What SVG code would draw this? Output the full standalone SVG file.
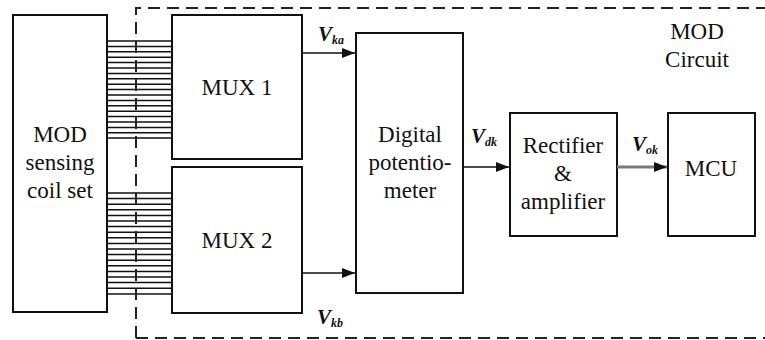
<svg xmlns="http://www.w3.org/2000/svg" width="765" height="340" viewBox="0 0 765 340">
  <style>
    .box { fill: #fff; stroke: #111; stroke-width: 2; }
    .lbl { font-family: "Liberation Serif", "DejaVu Serif", serif; font-size: 23px; fill: #111; text-anchor: middle; }
    .v { font-family: "Liberation Serif", "DejaVu Serif", serif; font-style: italic; font-weight: bold; font-size: 21px; fill: #111; }
    .sub { font-size: 12px; }
    .bus line { stroke: #111; stroke-width: 1.5; }
    .wire { stroke: #111; stroke-width: 1.6; fill: none; }
    .frame { fill: none; stroke: #222; stroke-width: 2; stroke-dasharray: 12 7; }
  </style>
  <defs>
    <marker id="arr" markerWidth="13" markerHeight="10" refX="13" refY="5" orient="auto" markerUnits="userSpaceOnUse">
      <path d="M0,0 L13,5 L0,10 Z" fill="#111"/>
    </marker>
  </defs>
  <rect width="765" height="340" fill="#fff"/>

  <!-- sensing coil bus lines -->
  <g id="bus-upper" class="bus">
    <line x1="107" y1="41" x2="172" y2="41"/><line x1="107" y1="46.4" x2="172" y2="46.4"/>
    <line x1="107" y1="51.8" x2="172" y2="51.8"/><line x1="107" y1="57.2" x2="172" y2="57.2"/>
    <line x1="107" y1="62.6" x2="172" y2="62.6"/><line x1="107" y1="68" x2="172" y2="68"/>
    <line x1="107" y1="73.4" x2="172" y2="73.4"/><line x1="107" y1="78.8" x2="172" y2="78.8"/>
    <line x1="107" y1="84.2" x2="172" y2="84.2"/><line x1="107" y1="89.6" x2="172" y2="89.6"/>
    <line x1="107" y1="95" x2="172" y2="95"/><line x1="107" y1="100.4" x2="172" y2="100.4"/>
    <line x1="107" y1="105.8" x2="172" y2="105.8"/><line x1="107" y1="111.2" x2="172" y2="111.2"/>
    <line x1="107" y1="116.6" x2="172" y2="116.6"/><line x1="107" y1="122" x2="172" y2="122"/>
    <line x1="107" y1="127.4" x2="172" y2="127.4"/><line x1="107" y1="132.8" x2="172" y2="132.8"/>
    <line x1="107" y1="138" x2="172" y2="138"/>
  </g>
  <g id="bus-lower" class="bus">
    <line x1="107" y1="193" x2="172" y2="193"/><line x1="107" y1="198.6" x2="172" y2="198.6"/>
    <line x1="107" y1="204.2" x2="172" y2="204.2"/><line x1="107" y1="209.8" x2="172" y2="209.8"/>
    <line x1="107" y1="215.4" x2="172" y2="215.4"/><line x1="107" y1="221" x2="172" y2="221"/>
    <line x1="107" y1="226.6" x2="172" y2="226.6"/><line x1="107" y1="232.2" x2="172" y2="232.2"/>
    <line x1="107" y1="237.8" x2="172" y2="237.8"/><line x1="107" y1="243.4" x2="172" y2="243.4"/>
    <line x1="107" y1="249" x2="172" y2="249"/><line x1="107" y1="254.6" x2="172" y2="254.6"/>
    <line x1="107" y1="260.2" x2="172" y2="260.2"/><line x1="107" y1="265.8" x2="172" y2="265.8"/>
    <line x1="107" y1="271.4" x2="172" y2="271.4"/><line x1="107" y1="277" x2="172" y2="277"/>
    <line x1="107" y1="282.6" x2="172" y2="282.6"/><line x1="107" y1="288.2" x2="172" y2="288.2"/>
    <line x1="107" y1="294" x2="172" y2="294"/>
  </g>

  <!-- MOD circuit boundary -->
  <g id="mod-circuit">
    <path class="frame" d="M136,338 L136,8 L770,8 M136,338 L770,338"/>
    <text class="lbl" x="697" y="39">MOD</text>
    <text class="lbl" x="697" y="67">Circuit</text>
  </g>

  <g id="coil-set">
    <rect class="box" x="13" y="15" width="94" height="297"/>
    <text class="lbl" x="60" y="142">MOD</text>
    <text class="lbl" x="60" y="170">sensing</text>
    <text class="lbl" x="60" y="198">coil set</text>
  </g>

  <g id="mux1">
    <rect class="box" x="172" y="15" width="130" height="144"/>
    <text class="lbl" x="237" y="95">MUX 1</text>
  </g>

  <g id="mux2">
    <rect class="box" x="172" y="167" width="130" height="146"/>
    <text class="lbl" x="237" y="248">MUX 2</text>
  </g>

  <g id="digipot">
    <rect class="box" x="356" y="33" width="107" height="260"/>
    <text class="lbl" x="410" y="142">Digital</text>
    <text class="lbl" x="410" y="170">potentio-</text>
    <text class="lbl" x="410" y="198">meter</text>
  </g>

  <g id="rectifier">
    <rect class="box" x="510" y="113" width="107" height="123"/>
    <text class="lbl" x="563" y="153">Rectifier</text>
    <text class="lbl" x="563" y="181">&amp;</text>
    <text class="lbl" x="563" y="209">amplifier</text>
  </g>

  <g id="mcu">
    <rect class="box" x="668" y="113" width="87" height="123"/>
    <text class="lbl" x="711" y="176">MCU</text>
  </g>

  <!-- signal connectors -->
  <g id="connectors">
    <line class="wire" x1="302" y1="53" x2="355" y2="53" marker-end="url(#arr)"/>
    <line class="wire" x1="302" y1="273" x2="355" y2="273" marker-end="url(#arr)"/>
    <line class="wire" x1="463" y1="167" x2="509" y2="167" marker-end="url(#arr)"/>
    <line x1="617" y1="167" x2="667" y2="167" stroke="#7a7a7a" stroke-width="3" marker-end="url(#arr)"/>
    <text class="v" x="318" y="41">V<tspan class="sub" dy="3">ka</tspan></text>
    <text class="v" x="317" y="324">V<tspan class="sub" dy="3">kb</tspan></text>
    <text class="v" x="471" y="143">V<tspan class="sub" dy="3">dk</tspan></text>
    <text class="v" x="632" y="151">V<tspan class="sub" dy="3">ok</tspan></text>
  </g>
</svg>
